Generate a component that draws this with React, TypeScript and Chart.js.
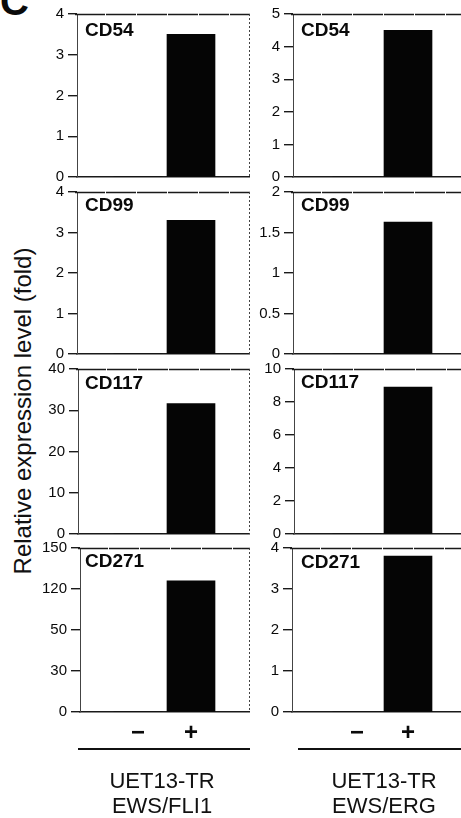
import React, { useEffect, useRef } from 'react';
import { Chart, registerables } from 'chart.js';

Chart.register(...registerables);

// ---------- data ----------
const panelLetter = 'C';
const yTitle = 'Relative expression level (fold)';
const markers = ['CD54', 'CD99', 'CD117', 'CD271'];
const conditions = ['\u2212', '+'];
const conditionX = [0, 1];

// EWS/FLI1 column (left)
const fliValues = [
  [0, 3.5],
  [0, 3.3],
  [0, 31.6],
  [0, 120],
];
const fliMax = [4, 4, 40, 150];
const fliStep = [1, 1, 10, 37.5];
const fliCD271TickLabels = ['0', '30', '50', '120', '150'];

// EWS/ERG column (right)
const ergValues = [
  [0, 4.5],
  [0, 1.63],
  [0, 8.9],
  [0, 3.8],
];
const ergMax = [5, 2, 10, 4];
const ergStep = [1, 0.5, 2, 1];

const columnTitles = [
  ['UET13-TR', 'EWS/FLI1'],
  ['UET13-TR', 'EWS/ERG'],
];

// ---------- layout ----------
const FONT = '"Liberation Sans", Arial, Helvetica, sans-serif';
const PAD = 12;
const rows = [
  { t: 13, b: 178 },
  { t: 191, b: 355 },
  { t: 368, b: 535 },
  { t: 547, b: 712 },
];
const leftCol = { canvasLeft: 28, ls: [77, 77, 78, 80], r: 250, zero: 138, unit: 53, rightBorder: true };
const rightCol = { canvasLeft: 252, ls: [293, 293, 294, 292], r: 462, zero: 357, unit: 51, rightBorder: false };
const labelPos = {
  left: { x: 85, capTops: [22, 197, 375, 553] },
  right: { x: 301, capTops: [22, 197, 374, 554] },
};

const framePlugin = {
  id: 'frame',
  afterDraw(chart: any, _args: any, opts: any) {
    const { ctx, chartArea } = chart;
    const { left, right, top, bottom } = chartArea;
    ctx.save();
    ctx.strokeStyle = '#1a1a1a';
    ctx.lineWidth = 1.5;
    ctx.setLineDash([30, 1]);
    ctx.beginPath();
    ctx.moveTo(left - 2, top + 0.5);
    ctx.lineTo(right, top + 0.5);
    ctx.stroke();
    if (opts && opts.right) {
      ctx.strokeStyle = '#444';
      ctx.lineWidth = 1;
      ctx.setLineDash([2, 2]);
      ctx.beginPath();
      ctx.moveTo(right - 0.5, top);
      ctx.lineTo(right - 0.5, bottom);
      ctx.stroke();
    }
    ctx.restore();
  },
};

type PanelProps = {
  values: number[];
  yMax: number;
  yStep: number;
  tickLabels?: string[];
  showX: boolean;
  canvasLeft: number;
  l: number;
  r: number;
  t: number;
  b: number;
  zero: number;
  unit: number;
  rightBorder: boolean;
};

function Panel(p: PanelProps) {
  const ref = useRef<HTMLCanvasElement>(null);
  const width = p.r - p.canvasLeft;
  const height = PAD + (p.b - p.t) + (p.showX ? 34 : PAD);
  useEffect(() => {
    if (!ref.current) return;
    const xMin = (p.l - p.zero) / p.unit;
    const xMax = (p.r - p.zero) / p.unit;
    const labs = p.tickLabels;
    const chart = new Chart(ref.current, {
      type: 'bar',
      data: {
        datasets: [
          {
            data: conditionX.map((x, i) => ({ x, y: p.values[i] })),
            backgroundColor: '#050505',
            borderWidth: 0,
            barThickness: 48,
          } as any,
        ],
      },
      options: {
        animation: false,
        responsive: false,
        maintainAspectRatio: false,
        layout: { padding: { top: PAD, bottom: p.showX ? 0 : PAD, left: 0, right: 0 } },
        plugins: {
          legend: { display: false },
          tooltip: { enabled: false },
          frame: { right: p.rightBorder },
        } as any,
        scales: {
          x: {
            type: 'linear',
            min: xMin,
            max: xMax,
            offset: false,
            afterBuildTicks: (s: any) => {
              s.ticks = conditionX.map((v) => ({ value: v }));
            },
            ticks: {
              display: p.showX,
              autoSkip: false,
              maxRotation: 0,
              padding: 7,
              color: '#0a0a0a',
              font: { family: FONT, size: 24, weight: 'bold' },
              callback: (_v: any, i: number) => conditions[i],
            },
            grid: { display: false, drawTicks: false, offset: false },
            border: { display: true, color: '#1a1a1a', width: 1.6, dash: [8, 2] },
            afterFit: (s: any) => {
              s.height = p.showX ? 34 : 0;
            },
          } as any,
          y: {
            min: 0,
            max: p.yMax,
            ticks: {
              stepSize: p.yStep,
              padding: 4,
              color: '#0a0a0a',
              font: { family: FONT, size: 15 },
              callback: (v: any, i: number) => (labs ? labs[i] : String(v)),
            },
            grid: { drawOnChartArea: false, drawTicks: true, tickLength: 9, color: '#1a1a1a', lineWidth: 1.4 },
            border: { display: true, color: '#444', width: 1, dash: [2, 2] },
            afterFit: (s: any) => {
              s.width = p.l - p.canvasLeft;
            },
          } as any,
        },
      },
      plugins: [framePlugin as any],
    });
    return () => chart.destroy();
  }, []);
  return (
    <canvas
      ref={ref}
      width={width}
      height={height}
      style={{ position: 'absolute', left: p.canvasLeft, top: p.t - PAD, width, height }}
    />
  );
}

export default function App() {
  const labelStyle = (x: number, capTop: number): React.CSSProperties => ({
    position: 'absolute',
    left: x,
    top: capTop - 2.5,
    fontFamily: FONT,
    fontWeight: 'bold',
    fontSize: 19,
    lineHeight: '19px',
    color: '#0a0a0a',
    whiteSpace: 'nowrap',
  });
  return (
    <div
      style={{
        position: 'absolute',
        left: 0,
        top: 0,
        width: 461,
        height: 818,
        overflow: 'hidden',
        background: '#fff',
      }}
    >
      <div
        style={{
          position: 'absolute',
          left: 0,
          top: -19,
          fontFamily: FONT,
          fontWeight: 'bold',
          fontSize: 40,
          lineHeight: '40px',
          color: '#0a0a0a',
        }}
      >
        {panelLetter}
      </div>
      <div
        style={{
          position: 'absolute',
          left: 23,
          top: 411,
          transform: 'translate(-50%, -50%) rotate(-90deg)',
          fontFamily: FONT,
          fontSize: 24,
          lineHeight: '24px',
          whiteSpace: 'nowrap',
          color: '#111',
        }}
      >
        {yTitle}
      </div>

      {rows.map((row, i) => (
        <Panel
          key={'l' + i}
          values={fliValues[i]}
          yMax={fliMax[i]}
          yStep={fliStep[i]}
          tickLabels={i === 3 ? fliCD271TickLabels : undefined}
          showX={i === 3}
          canvasLeft={leftCol.canvasLeft}
          l={leftCol.ls[i]}
          r={leftCol.r}
          t={row.t}
          b={row.b}
          zero={leftCol.zero}
          unit={leftCol.unit}
          rightBorder={leftCol.rightBorder}
        />
      ))}
      {rows.map((row, i) => (
        <Panel
          key={'r' + i}
          values={ergValues[i]}
          yMax={ergMax[i]}
          yStep={ergStep[i]}
          showX={i === 3}
          canvasLeft={rightCol.canvasLeft}
          l={rightCol.ls[i]}
          r={rightCol.r}
          t={row.t}
          b={row.b}
          zero={rightCol.zero}
          unit={rightCol.unit}
          rightBorder={rightCol.rightBorder}
        />
      ))}

      {markers.map((m, i) => (
        <div key={'ml' + i} style={labelStyle(labelPos.left.x, labelPos.left.capTops[i])}>
          {m}
        </div>
      ))}
      {markers.map((m, i) => (
        <div key={'mr' + i} style={labelStyle(labelPos.right.x, labelPos.right.capTops[i])}>
          {m}
        </div>
      ))}

      <div style={{ position: 'absolute', left: 78, top: 748, width: 172, height: 2, background: '#111' }} />
      <div style={{ position: 'absolute', left: 298, top: 748, width: 163, height: 2, background: '#111' }} />

      {columnTitles.map((lines, i) => (
        <div
          key={'ct' + i}
          style={{
            position: 'absolute',
            left: i === 0 ? 162 : 384,
            top: 767.7,
            transform: 'translateX(-50%)',
            textAlign: 'center',
            fontFamily: FONT,
            fontSize: 22,
            lineHeight: '25px',
            color: '#111',
            whiteSpace: 'nowrap',
          }}
        >
          {lines.map((s, j) => (
            <div key={j}>{s}</div>
          ))}
        </div>
      ))}
    </div>
  );
}
